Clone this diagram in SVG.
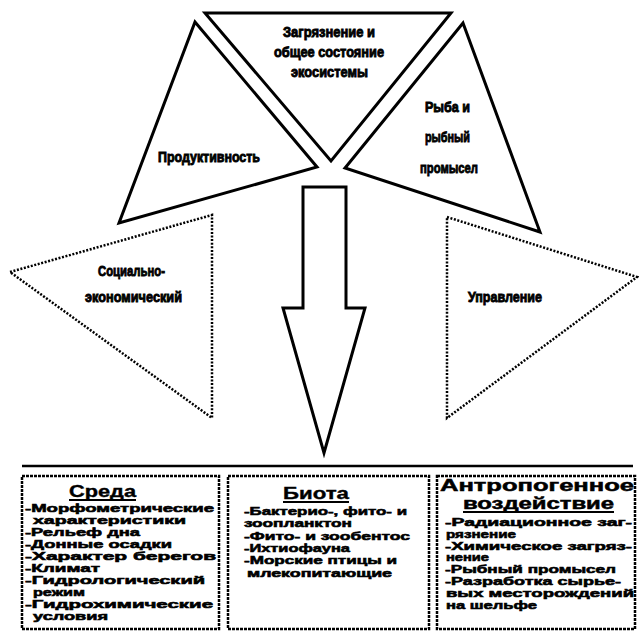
<svg xmlns="http://www.w3.org/2000/svg" width="639" height="631" viewBox="0 0 639 631">
<style>
.solid{fill:#fff;stroke:#000;stroke-width:3;stroke-linejoin:miter}
.dot{fill:#fff;stroke:#000;stroke-width:2.5;stroke-dasharray:2 1.6}
.box{fill:#fff;stroke:#000;stroke-width:2.5;stroke-dasharray:3 1}
.lbl{font-family:"Liberation Sans","DejaVu Sans",sans-serif;font-weight:bold;font-size:15px;fill:#000;stroke:#000;stroke-width:0.9}
.ttl{font-family:"Liberation Sans","DejaVu Sans",sans-serif;font-weight:bold;font-size:17px;fill:#000;stroke:#000;stroke-width:0.4}
.ttl2{font-family:"Liberation Sans","DejaVu Sans",sans-serif;font-weight:bold;font-size:16px;fill:#000;stroke:#000;stroke-width:0.5}
.txt{font-family:"Liberation Sans","DejaVu Sans",sans-serif;font-weight:bold;font-size:10.5px;fill:#000;stroke:#000;stroke-width:0.55}
.ul{stroke:#000;stroke-width:2}
</style>
<rect width="639" height="631" fill="#fff"/>
<g id="node-pollution">
<polygon class="solid" points="205,13 451,13 331,161"/>
<text class="lbl" x="283" y="37" textLength="92" lengthAdjust="spacingAndGlyphs">Загрязнение и</text>
<text class="lbl" x="274" y="57" textLength="110" lengthAdjust="spacingAndGlyphs">общее состояние</text>
<text class="lbl" x="291" y="77" textLength="77" lengthAdjust="spacingAndGlyphs">экосистемы</text>
</g>
<g id="node-productivity">
<polygon class="solid" points="195,22 317,167 119,223"/>
<text class="lbl" x="158" y="162" textLength="102" lengthAdjust="spacingAndGlyphs">Продуктивность</text>
</g>
<g id="node-fish">
<polygon class="solid" points="463,23 540,232 345,168"/>
<text class="lbl" x="425" y="112" textLength="45" lengthAdjust="spacingAndGlyphs">Рыба и</text>
<text class="lbl" x="425" y="142" textLength="45" lengthAdjust="spacingAndGlyphs">рыбный</text>
<text class="lbl" x="420" y="173" textLength="58" lengthAdjust="spacingAndGlyphs">промысел</text>
</g>
<g id="node-socio">
<polygon class="dot" points="10,272 212,215 212,418"/>
<text class="lbl" x="98" y="276" textLength="67" lengthAdjust="spacingAndGlyphs">Социально-</text>
<text class="lbl" x="85" y="302" textLength="97" lengthAdjust="spacingAndGlyphs">экономический</text>
</g>
<g id="node-management">
<polygon class="dot" points="447,217 637,277 447,418"/>
<text class="lbl" x="468" y="302" textLength="74" lengthAdjust="spacingAndGlyphs">Управление</text>
</g>
<g id="connectors">
<path class="solid" d="M303,187 L346,187 L346,308 L365,308 L324,453 L283,308 L303,308 Z"/>
<line x1="22" y1="466" x2="633" y2="466" stroke="#000" stroke-width="2.5"/>
</g>
<g id="node-environment">
<rect class="box" x="22" y="476" width="197" height="153"/>
<text class="ttl" x="69" y="497" textLength="67" lengthAdjust="spacingAndGlyphs">Среда</text>
<line class="ul" x1="69" y1="500" x2="136" y2="500"/>
<text class="txt" x="25" y="512" textLength="189" lengthAdjust="spacingAndGlyphs">-Морфометрические</text>
<text class="txt" x="33" y="524" textLength="153" lengthAdjust="spacingAndGlyphs">характеристики</text>
<text class="txt" x="25" y="536" textLength="115" lengthAdjust="spacingAndGlyphs">-Рельеф дна</text>
<text class="txt" x="25" y="548" textLength="147" lengthAdjust="spacingAndGlyphs">-Донные осадки</text>
<text class="txt" x="25" y="560" textLength="191" lengthAdjust="spacingAndGlyphs">-Характер берегов</text>
<text class="txt" x="25" y="572" textLength="75" lengthAdjust="spacingAndGlyphs">-Климат</text>
<text class="txt" x="25" y="584" textLength="180" lengthAdjust="spacingAndGlyphs">-Гидрологический</text>
<text class="txt" x="33" y="596" textLength="52" lengthAdjust="spacingAndGlyphs">режим</text>
<text class="txt" x="25" y="608" textLength="188" lengthAdjust="spacingAndGlyphs">-Гидрохимические</text>
<text class="txt" x="33" y="620" textLength="75" lengthAdjust="spacingAndGlyphs">условия</text>
</g>
<g id="node-biota">
<rect class="box" x="228" y="476" width="201" height="153"/>
<text class="ttl" x="283" y="499" textLength="66" lengthAdjust="spacingAndGlyphs">Биота</text>
<line class="ul" x1="283" y1="502" x2="349" y2="502"/>
<text class="txt" x="244" y="515" textLength="163" lengthAdjust="spacingAndGlyphs">-Бактерио-, фито- и</text>
<text class="txt" x="244" y="527.3" textLength="108" lengthAdjust="spacingAndGlyphs">зоопланктон</text>
<text class="txt" x="244" y="539.6" textLength="166" lengthAdjust="spacingAndGlyphs">-Фито- и зообентос</text>
<text class="txt" x="244" y="551.9" textLength="106" lengthAdjust="spacingAndGlyphs">-Ихтиофауна</text>
<text class="txt" x="244" y="564.2" textLength="153" lengthAdjust="spacingAndGlyphs">-Морские птицы и</text>
<text class="txt" x="247" y="576.5" textLength="145" lengthAdjust="spacingAndGlyphs">млекопитающие</text>
</g>
<g id="node-anthropogenic">
<rect class="box" x="437" y="476" width="198" height="153"/>
<text class="ttl2" x="440" y="491" textLength="194" lengthAdjust="spacingAndGlyphs">Антропогенное</text>
<text class="ttl2" x="463" y="509" textLength="151" lengthAdjust="spacingAndGlyphs">воздействие</text>
<line class="ul" x1="463" y1="512" x2="614" y2="512"/>
<text class="txt" x="445" y="526" textLength="187" lengthAdjust="spacingAndGlyphs">-Радиационное заг-</text>
<text class="txt" x="446" y="537.8" textLength="70" lengthAdjust="spacingAndGlyphs">рязнение</text>
<text class="txt" x="445" y="549.6" textLength="187" lengthAdjust="spacingAndGlyphs">-Химическое загряз-</text>
<text class="txt" x="446" y="561.4" textLength="43" lengthAdjust="spacingAndGlyphs">нение</text>
<text class="txt" x="445" y="573.2" textLength="171" lengthAdjust="spacingAndGlyphs">-Рыбный промысел</text>
<text class="txt" x="445" y="585" textLength="176" lengthAdjust="spacingAndGlyphs">-Разработка сырье-</text>
<text class="txt" x="446" y="596.8" textLength="188" lengthAdjust="spacingAndGlyphs">вых месторождений</text>
<text class="txt" x="446" y="608.6" textLength="91" lengthAdjust="spacingAndGlyphs">на шельфе</text>
</g>
</svg>
